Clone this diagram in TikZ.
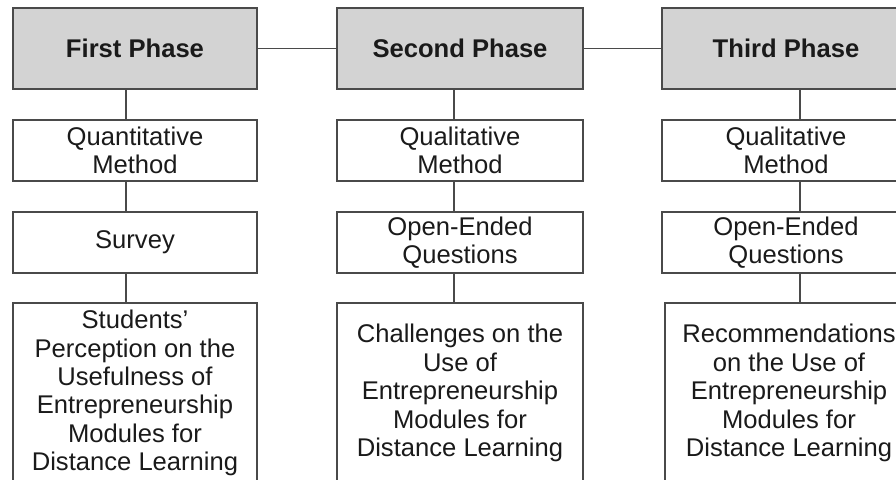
\documentclass[tikz,border=0pt]{standalone}
\usepackage{fontspec}
\setmainfont{Liberation Sans}
\definecolor{edgegray}{HTML}{4A4A4A}
\definecolor{phasefill}{HTML}{D3D3D3}
\definecolor{txt}{HTML}{1A1A1A}
\begin{document}
\begin{tikzpicture}[x=0.75pt,y=-0.75pt,
  box/.style={draw=edgegray,line width=1.2pt,rectangle,inner sep=0pt,align=center,
    text=txt,font=\fontsize{19.2}{21.3}\selectfont,minimum height=45.75pt},
  phasebox/.style={box,fill=phasefill,font=\fontsize{19.2}{21.3}\selectfont\bfseries,minimum height=60.75pt},
  tallbox/.style={box,minimum height=135pt},
  link/.style={draw=edgegray,line width=1.2pt}]
\useasboundingbox (0,0) rectangle (896,479);
\begin{scope}
\clip (0,0) rectangle (896,479);
% column 1
\node[phasebox,minimum width=183pt] (p1) at (135,48.5) {First Phase};
\node[box,minimum width=183pt] (m1) at (135,150.5) {Quantitative\\Method};
\node[box,minimum width=183pt] (t1) at (135,242.5) {Survey};
\node[tallbox,minimum width=183pt] (b1) at (135,393) {Students’\\Perception on the\\Usefulness of\\Entrepreneurship\\Modules for\\Distance Learning};
% column 2
\node[phasebox,minimum width=184.5pt] (p2) at (460,48.5) {Second Phase};
\node[box,minimum width=184.5pt] (m2) at (460,150.5) {Qualitative\\Method};
\node[box,minimum width=184.5pt] (t2) at (460,242.5) {Open-Ended\\Questions};
\node[tallbox,minimum width=184.5pt] (b2) at (460,393) {Challenges on the\\Use of\\Entrepreneurship\\Modules for\\Distance Learning};
% column 3
\node[phasebox,minimum width=186pt] (p3) at (786,48.5) {Third Phase};
\node[box,minimum width=186pt] (m3) at (786,150.5) {Qualitative\\Method};
\node[box,minimum width=186pt] (t3) at (786,242.5) {Open-Ended\\Questions};
\node[tallbox,minimum width=186pt] (b3) at (789,393) {Recommendations\\on the Use of\\Entrepreneurship\\Modules for\\Distance Learning};
% connector x positions
\coordinate (c1) at (126,0);
\coordinate (c2) at (454,0);
\coordinate (c3) at (800,0);
% horizontal links
\draw[link] (p1.east) -- (p2.west);
\draw[link] (p2.east) -- (p3.west);
% vertical links
\draw[link] (p1.south -| c1) -- (m1.north -| c1);
\draw[link] (m1.south -| c1) -- (t1.north -| c1);
\draw[link] (t1.south -| c1) -- (b1.north -| c1);
\draw[link] (p2.south -| c2) -- (m2.north -| c2);
\draw[link] (m2.south -| c2) -- (t2.north -| c2);
\draw[link] (t2.south -| c2) -- (b2.north -| c2);
\draw[link] (p3.south -| c3) -- (m3.north -| c3);
\draw[link] (m3.south -| c3) -- (t3.north -| c3);
\draw[link] (t3.south -| c3) -- (b3.north -| c3);
\end{scope}
\end{tikzpicture}
\end{document}
